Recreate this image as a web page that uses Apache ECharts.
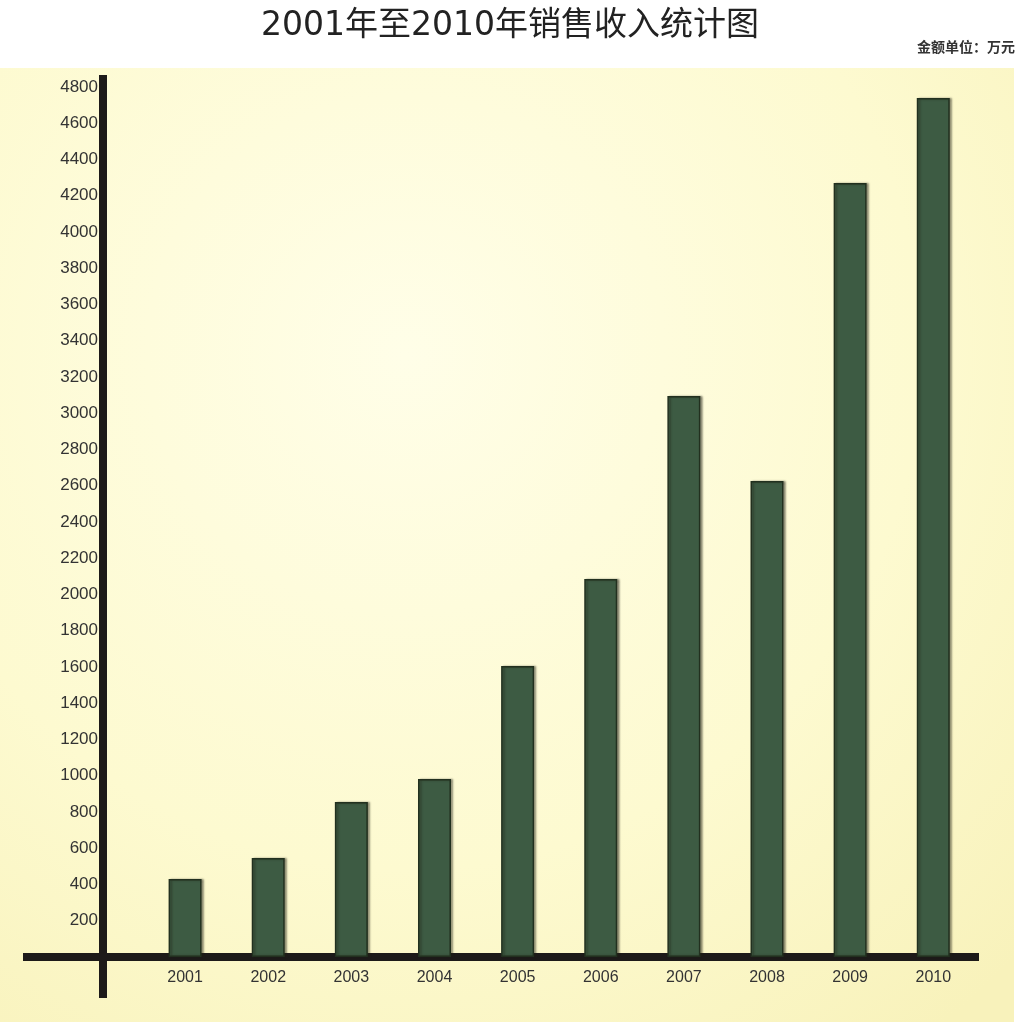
<!DOCTYPE html>
<html><head><meta charset="utf-8">
<script src="https://cdn.jsdelivr.net/npm/echarts@6/dist/echarts.min.js"></script>
<style>html,body{margin:0;padding:0;background:#ffffff}#c{width:1029px;height:1028px}</style>
</head><body><div id="c"></div>
<script>
const years = [2001, 2002, 2003, 2004, 2005, 2006, 2007, 2008, 2009, 2010];
const revenue = [430, 546, 855, 982, 1606, 2086, 3095, 2626, 4270, 4739];
const yTickLabels = [200, 400, 600, 800, 1000, 1200, 1400, 1600, 1800, 2000, 2200, 2400, 2600, 2800, 3000, 3200, 3400, 3600, 3800, 4000, 4200, 4400, 4600, 4800];
const titleText = '2001年至2010年销售收入统计图';
const unitText = '金额单位：万元';
const baseYear = 2000;

const chart = echarts.init(document.getElementById('c'), null, {renderer: 'canvas'});
const barData = years.map((y, i) => [y - baseYear, revenue[i]]);
const font = '"Liberation Sans", Arial, sans-serif';

chart.setOption({
  animation: false,
  backgroundColor: '#ffffff',
  graphic: [{
    type: 'rect', z: -10, silent: true,
    shape: {x: 0, y: 68, width: 1014, height: 954},
    style: {fill: new echarts.graphic.RadialGradient(0.4, 0.3, 0.9, [
      {offset: 0, color: '#fffee8'},
      {offset: 0.6, color: '#fdfad0'},
      {offset: 1, color: '#f8f2bb'}
    ])}
  }],
  title: [{
    text: titleText, left: 256, top: 5,
    textStyle: {fontSize: 33, fontWeight: 'normal', color: '#222', fontFamily: '"DejaVu Sans", "Noto Sans CJK SC", sans-serif'}
  }, {
    text: unitText, right: 9, top: 35,
    textStyle: {fontSize: 14, fontWeight: 'bold', color: '#333', fontFamily: '"Noto Sans CJK SC", sans-serif'}
  }],
  grid: {left: 23, right: 50, top: 75, bottom: 30, containLabel: false, outerBoundsMode: 'none'},
  xAxis: {
    type: 'value', min: -0.95, max: 10.55,
    position: 'bottom', offset: -41,
    axisLine: {onZero: false, lineStyle: {color: '#1d1a19', width: 8, cap: 'butt'}},
    axisTick: {show: false},
    splitLine: {show: false},
    axisLabel: {
      customValues: years.map(y => y - baseYear),
      formatter: v => String(Math.round(v) + baseYear),
      fontSize: 16, color: '#333', margin: 13, fontFamily: font
    }
  },
  yAxis: {
    type: 'value', min: -226, max: 4866,
    position: 'left', offset: -80,
    axisLine: {onZero: false, lineStyle: {color: '#1d1a19', width: 8, cap: 'butt'}},
    axisTick: {show: false},
    splitLine: {show: false},
    axisLabel: {
      customValues: yTickLabels,
      formatter: v => String(v),
      fontSize: 17, color: '#333', margin: 5, fontFamily: font
    }
  },
  series: [{
    type: 'bar',
    data: barData,
    barWidth: 33,
    itemStyle: {color: '#3d5b43', borderColor: '#22301f', borderWidth: 1.5,
      shadowColor: 'rgba(30,30,20,0.45)', shadowOffsetX: 2, shadowBlur: 2}
  }]
});
</script>
</body></html>
